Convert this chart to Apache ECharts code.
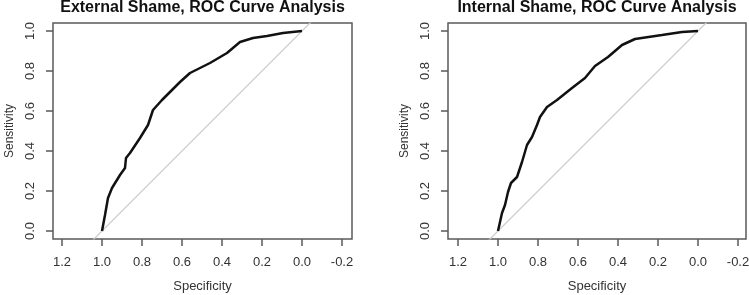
<!DOCTYPE html>
<html>
<head>
<meta charset="utf-8">
<script src="https://cdn.jsdelivr.net/npm/echarts@6/dist/echarts.min.js"></script>
<style>
  html, body { margin: 0; padding: 0; background: #fff; }
  #chart { width: 749px; height: 295px; }
</style>
</head>
<body>
<div id="chart"></div>
<script>
// ROC curves (specificity, sensitivity)
const externalSpec = [1.0, 0.985, 0.97, 0.95, 0.91, 0.885, 0.88, 0.86, 0.81, 0.77, 0.745, 0.70, 0.66, 0.61, 0.56, 0.51, 0.46, 0.375, 0.31, 0.245, 0.175, 0.095, 0.0]
const externalSens = [0.0, 0.08, 0.165, 0.215, 0.28, 0.315, 0.365, 0.39, 0.465, 0.53, 0.605, 0.655, 0.695, 0.745, 0.79, 0.815, 0.84, 0.89, 0.945, 0.965, 0.975, 0.99, 1.0]
const internalSpec = [1.0, 0.98, 0.965, 0.95, 0.935, 0.905, 0.88, 0.855, 0.83, 0.805, 0.79, 0.755, 0.705, 0.63, 0.565, 0.515, 0.45, 0.38, 0.315, 0.18, 0.08, 0.0]
const internalSens = [0.0, 0.09, 0.13, 0.195, 0.24, 0.27, 0.345, 0.43, 0.47, 0.53, 0.57, 0.62, 0.655, 0.715, 0.765, 0.825, 0.87, 0.93, 0.96, 0.98, 0.995, 1.0]
// chance line (clipped by the plot box)
const chanceSpec = [1.3, -0.3]
const chanceSens = [-0.3, 1.3]

const xTicks = [1.2, 1.0, 0.8, 0.6, 0.4, 0.2, 0.0, -0.2]
const yTicks = [0.0, 0.2, 0.4, 0.6, 0.8, 1.0]
const titles = ['External Shame, ROC Curve Analysis', 'Internal Shame, ROC Curve Analysis']

const fontFamily = '"Liberation Sans", Arial, sans-serif'
const textColor = '#333'
const boxColor = '#5a5a5a'

const pairs = (xs, ys) => xs.map((x, i) => [x, ys[i]])

// plot boxes in pixels; x scale is 200px per unit, 1.0 sits at x1
const panels = [
  { left: 53, right: 352, x1: 102 },
  { left: 448, right: 746, x1: 498 }
]

const grids = panels.map(p => ({
  left: p.left,
  top: 23,
  width: p.right - p.left,
  height: 216,
  outerBoundsMode: 'none',
  containLabel: false,
  show: true,
  borderColor: boxColor,
  borderWidth: 1.5,
  backgroundColor: 'transparent'
}))

const xAxes = panels.map((p, i) => ({
  type: 'value',
  gridIndex: i,
  inverse: true,
  max: 1.0 + (p.x1 - p.left) / 200,
  min: 1.0 - (p.right - p.x1) / 200,
  name: 'Specificity',
  nameLocation: 'middle',
  nameGap: 41,
  nameTextStyle: { color: textColor, fontSize: 13, fontFamily },
  splitLine: { show: false },
  axisLine: { show: false, onZero: false },
  axisTick: {
    show: true,
    length: 7,
    customValues: xTicks,
    lineStyle: { color: boxColor, width: 1.5 }
  },
  axisLabel: {
    customValues: xTicks,
    margin: 17,
    color: textColor,
    fontSize: 13,
    fontFamily,
    formatter: v => v.toFixed(1)
  }
}))

const yAxes = panels.map((p, i) => ({
  type: 'value',
  gridIndex: i,
  min: -0.04,
  max: 1.04,
  name: 'Sensitivity',
  nameLocation: 'middle',
  nameGap: 37,
  nameTextStyle: { color: textColor, fontSize: 12, fontFamily },
  splitLine: { show: false },
  axisLine: { show: false, onZero: false },
  axisTick: {
    show: true,
    length: 7,
    customValues: yTicks,
    lineStyle: { color: boxColor, width: 1.5 }
  },
  axisLabel: {
    customValues: yTicks,
    rotate: 90,
    margin: 16,
    color: textColor,
    fontSize: 13,
    fontFamily,
    formatter: v => v.toFixed(1)
  }
}))

const lineSeries = (data, i, color, width) => ({
  type: 'line',
  xAxisIndex: i,
  yAxisIndex: i,
  data,
  showSymbol: false,
  clip: true,
  silent: true,
  animation: false,
  lineStyle: { color, width }
})

const series = [
  lineSeries(pairs(chanceSpec, chanceSens), 0, '#cccccc', 1.2),
  lineSeries(pairs(externalSpec, externalSens), 0, '#111', 2.5),
  lineSeries(pairs(chanceSpec, chanceSens), 1, '#cccccc', 1.2),
  lineSeries(pairs(internalSpec, internalSens), 1, '#111', 2.5)
]

const myChart = echarts.init(document.getElementById('chart'), null, { renderer: 'canvas' })
myChart.setOption({
  backgroundColor: '#fff',
  animation: false,
  title: panels.map((p, i) => ({
    text: titles[i],
    left: (p.left + p.right) / 2,
    textAlign: 'center',
    top: 0,
    padding: 0,
    textStyle: { color: '#111', fontSize: 16, fontWeight: 'bold', fontFamily }
  })),
  grid: grids,
  xAxis: xAxes,
  yAxis: yAxes,
  series
})
</script>
</body>
</html>
